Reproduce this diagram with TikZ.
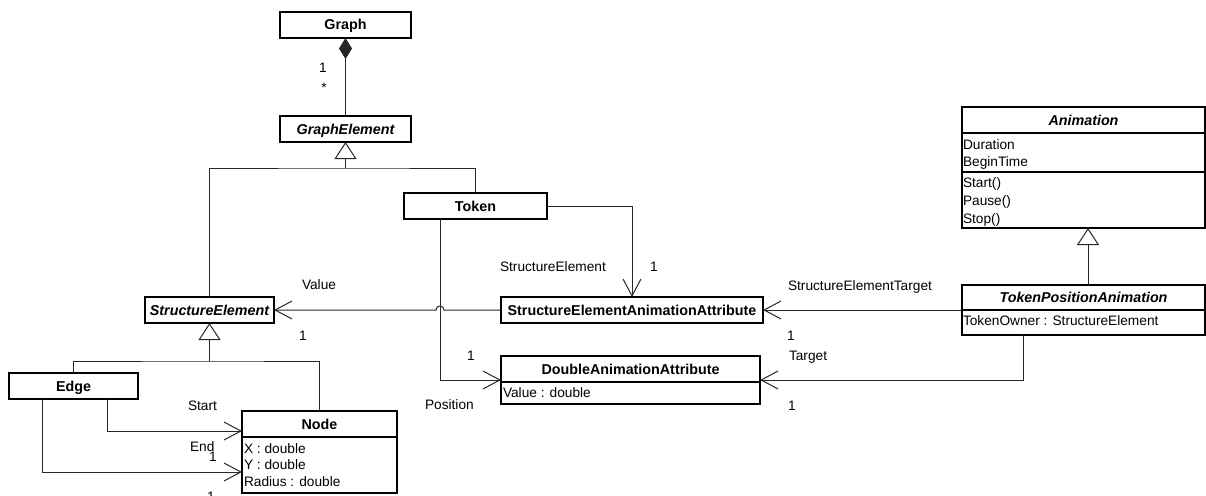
\documentclass[tikz,border=0pt]{standalone}
\usepackage{fontspec}
\setmainfont{Liberation Sans}
\usetikzlibrary{arrows.meta,calc}

\begin{document}
\begin{tikzpicture}[x=1pt,y=-1pt,
  every node/.style={inner sep=0pt, outer sep=0pt},
  regular/.style={font=\fontsize{13.7}{16}\selectfont},
  cls/.style={draw, line width=1.4pt, anchor=north west, fill=white,
    minimum height=26pt, text height=10pt, text depth=0pt,
    font=\fontsize{14.3}{16}\selectfont\bfseries},
  abstract/.style={font=\fontsize{14.3}{16}\selectfont\bfseries\itshape},
  box/.style={draw, line width=1.4pt, anchor=north west, fill=white},
  title/.style={text height=10pt, text depth=0pt,
    font=\fontsize{14.3}{16}\selectfont\bfseries},
  attr/.style={regular, anchor=base west},
  lbl/.style={regular, anchor=base west},
  num/.style={regular, anchor=base},
  sep/.style={line width=1.4pt},
  conn/.style={line width=1pt, draw=black!85},
  assoc/.style={conn, -{Straight Barb[length=17pt,width=18pt]}},
  gen/.style={conn, -{Triangle[open,length=17pt,width=22pt]}},
  comp/.style={conn, -{Diamond[length=21pt,width=13pt]}}
]
\useasboundingbox (0,0) rectangle (1206,495);
\clip (0,0) rectangle (1206,495);

% ---------- classes ----------
\node[cls, minimum width=131pt] (graph) at (280,12) {Graph};
\node[cls, abstract, minimum width=131pt] (ge) at (280,116) {GraphElement};
\node[cls, minimum width=143pt] (token) at (404,193) {Token};
\node[cls, abstract, minimum width=129pt] (se) at (145,297) {StructureElement};
\node[cls, minimum width=262pt] (seaa) at (501,297) {StructureElementAnimationAttribute};
\node[cls, minimum width=129pt] (edge) at (9,373) {Edge};

% Node
\node[box, minimum width=155pt, minimum height=82pt] (node) at (242,411) {};
\node[title] (nodeT) at ($(node.north)+(0,13)$) {Node};
\draw[sep] ($(node.north west)+(0,26)$) -- ($(node.north east)+(0,26)$);
\node[attr] (nodeX) at ($(node.north west)+(2,42)$) {X : double};
\node[attr] (nodeY) at ($(node.north west)+(2,58.5)$) {Y : double};
\node[attr] (nodeR) at ($(node.north west)+(2,75)$) {Radius : double};

% DoubleAnimationAttribute
\node[box, minimum width=259pt, minimum height=48pt] (daa) at (501,356) {};
\node[title] (daaT) at ($(daa.north)+(0,13)$) {DoubleAnimationAttribute};
\draw[sep] ($(daa.north west)+(0,26)$) -- ($(daa.north east)+(0,26)$);
\node[attr] (daaV) at ($(daa.north west)+(2,41)$) {Value : double};

% Animation
\node[box, minimum width=243pt, minimum height=121pt] (anim) at (962,107) {};
\node[title, font=\fontsize{14.3}{16}\selectfont\bfseries\itshape] (animT) at ($(anim.north)+(0,13)$) {Animation};
\draw[sep] ($(anim.north west)+(0,26)$) -- ($(anim.north east)+(0,26)$);
\draw[sep] ($(anim.north west)+(0,65)$) -- ($(anim.north east)+(0,65)$);
\node[attr] (animD) at ($(anim.north west)+(1,42)$) {Duration};
\node[attr] (animB) at ($(anim.north west)+(1,59)$) {BeginTime};
\node[attr] (animS) at ($(anim.north west)+(1,80)$) {Start()};
\node[attr] (animP) at ($(anim.north west)+(1,98)$) {Pause()};
\node[attr] (animO) at ($(anim.north west)+(1,116)$) {Stop()};

% TokenPositionAnimation
\node[box, minimum width=243pt, minimum height=50pt] (tpa) at (962,285) {};
\node[title, font=\fontsize{14.3}{16}\selectfont\bfseries\itshape] (tpaT) at ($(tpa.north)+(0,12.5)$) {TokenPositionAnimation};
\draw[sep] ($(tpa.north west)+(0,25)$) -- ($(tpa.north east)+(0,25)$);
\node[attr] (tpaO) at ($(tpa.north west)+(1,40)$) {TokenOwner : StructureElement};

% ---------- connectors ----------
% composition Graph <>-- GraphElement
\draw[comp] (ge.north) -- (graph.south);
\node[num] (m1) at (323,72) {1};
\node[num] (m2) at (324,92) {*};

% generalisation to GraphElement
\coordinate (gj) at ($(ge.south)+(0,26)$);
\draw[conn] (se.north) |- (gj) -| (token.north);
\draw[gen] (gj) -- (ge.south);

% generalisation to StructureElement
\coordinate (sj) at ($(se.south)+(0,38)$);
\draw[conn] (edge.north) |- (sj) -| (node.north);
\draw[gen] (sj) -- (se.south);

% generalisation to Animation
\draw[gen] ($(tpa.north)+(4.5,0)$) -- ($(anim.south)+(4.5,0)$);

% Token -> StructureElementAnimationAttribute
\draw[assoc] (token.east) -| (seaa.north);
\node[lbl] (lSE) at (500,271) {StructureElement};
\node[num] (lSE1) at (654,271) {1};

% Token -> DoubleAnimationAttribute (Position)
\coordinate (tk) at ($(token.south west)+(36,0)$);
\draw[assoc] (tk) |- (daa.west);
\node[num] (lP1) at (471,360) {1};
\node[lbl] (lP) at (425,409) {Position};

% StructureElementAnimationAttribute -> StructureElement (Value), hopping over the Position line
\coordinate (hopR) at ($(tk |- seaa.west)+(4,0)$);
\coordinate (hopL) at ($(tk |- seaa.west)+(-4,0)$);
\draw[assoc] (seaa.west) -- (hopR)
  .. controls ($(hopR)+(0,-5.3)$) and ($(hopL)+(0,-5.3)$) .. (hopL)
  -- (se.east);
\node[lbl] (lV) at (302,289) {Value};
\node[num] (lV1) at (303,340) {1};

% TokenPositionAnimation -> StructureElementAnimationAttribute
\draw[assoc] (tpa.west) -- (seaa.east);
\node[lbl] (lSET) at (788,290) {StructureElementTarget};
\node[num] (lSET1) at (791,340) {1};

% TokenPositionAnimation -> DoubleAnimationAttribute
\coordinate (tp) at ($(tpa.south west)+(61,0)$);
\draw[assoc] (tp) |- (daa.east);
\node[lbl] (lT) at (789,360) {Target};
\node[num] (lT1) at (792,410) {1};

% Edge -> Node (Start, End)
\coordinate (es) at ($(edge.south west)+(98,0)$);
\coordinate (ee) at ($(edge.south west)+(33,0)$);
\draw[assoc] (es) |- ($(node.west)+(0,-21)$);
\draw[assoc] (ee) |- ($(node.west)+(0,20)$);
\node[lbl] (lS) at (188,410) {Start};
\node[lbl] (lE) at (190,451) {End};
\node[num] (lS1) at (213,461) {1};
\node[num] (lE1) at (211,501) {1};
\end{tikzpicture}
\end{document}
